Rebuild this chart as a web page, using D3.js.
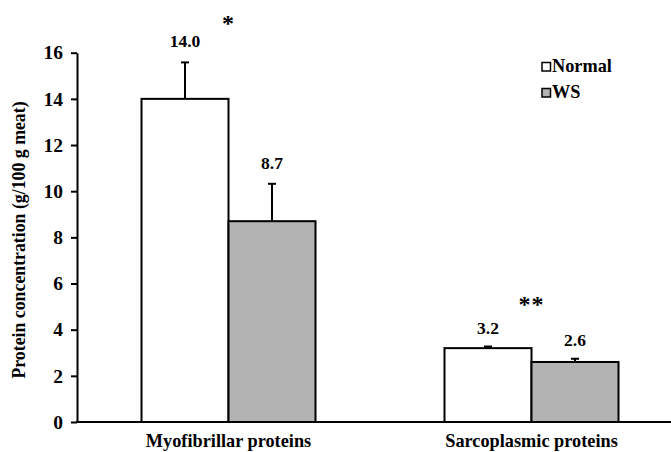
<!DOCTYPE html>
<html>
<head>
<meta charset="utf-8">
<script src="https://cdn.jsdelivr.net/npm/d3@7"></script>
<style>
  body { margin: 0; background: #fff; }
  text { font-family: "Liberation Serif", "Times New Roman", serif; font-weight: bold; }
</style>
</head>
<body>
<div id="chart"></div>
<script>
// data
const categories = ['Myofibrillar proteins', 'Sarcoplasmic proteins']
const series = ['Normal', 'WS']
const normalValues = [14.0, 3.2]
const wsValues = [8.7, 2.6]
const normalErr = [1.58, 0.07]
const wsErr = [1.62, 0.14]
const valueLabels = [['14.0', '8.7'], ['3.2', '2.6']]
const sigMarks = ['*', '**']
const yTicks = [0, 2, 4, 6, 8, 10, 12, 14, 16]

const width = 671
const height = 452
const fills = { Normal: '#ffffff', WS: '#b3b3b3' }

const svg = d3.select('#chart').append('svg')
  .attr('width', width)
  .attr('height', height)

const x0 = d3.scaleBand().domain(categories).range([77, 683]).paddingInner(0).paddingOuter(0)
const y = d3.scaleLinear().domain([0, 16]).range([422, 52.7])

const barW = 87
const x1 = d3.scaleBand().domain(series).range([x0.bandwidth() / 2 - barW, x0.bandwidth() / 2 + barW])

const rows = categories.map((c, i) => ({
  cat: c,
  bars: [
    { s: 'Normal', v: normalValues[i], e: normalErr[i], label: valueLabels[i][0] },
    { s: 'WS', v: wsValues[i], e: wsErr[i], label: valueLabels[i][1] }
  ],
  sig: sigMarks[i]
}))

const groups = svg.selectAll('g.cat')
  .data(rows)
  .join('g')
  .attr('class', 'cat')
  .attr('transform', d => `translate(${x0(d.cat)},0)`)

// error bars (drawn first, bar covers bottom)
groups.selectAll('g.err')
  .data(d => d.bars)
  .join('g')
  .attr('class', 'err')
  .each(function (d) {
    const g = d3.select(this)
    const cx = x1(d.s) + x1.bandwidth() / 2
    g.append('line')
      .attr('x1', cx).attr('x2', cx)
      .attr('y1', y(d.v)).attr('y2', y(d.v + d.e))
      .attr('stroke', '#000').attr('stroke-width', 2)
    g.append('line')
      .attr('x1', cx - 4).attr('x2', cx + 4)
      .attr('y1', y(d.v + d.e)).attr('y2', y(d.v + d.e))
      .attr('stroke', '#000').attr('stroke-width', 2)
  })

groups.selectAll('rect.bar')
  .data(d => d.bars)
  .join('rect')
  .attr('class', 'bar')
  .attr('x', d => x1(d.s))
  .attr('y', d => y(d.v))
  .attr('width', x1.bandwidth())
  .attr('height', d => y(0) - y(d.v))
  .attr('fill', d => fills[d.s])
  .attr('stroke', '#000')
  .attr('stroke-width', 2)

// value labels
groups.selectAll('text.val')
  .data(d => d.bars)
  .join('text')
  .attr('class', 'val')
  .attr('x', d => x1(d.s) + x1.bandwidth() / 2)
  .attr('y', d => y(d.v + d.e) - (d.e < 0.5 ? 13 : 15))
  .attr('text-anchor', 'middle')
  .style('font-size', '17.5px')
  .text(d => d.label)

// significance stars
groups.append('text')
  .attr('x', x0.bandwidth() / 2)
  .attr('y', (d, i) => i === 0 ? 31 : 312)
  .attr('text-anchor', 'middle')
  .style('font-size', '24px')
  .attr('letter-spacing', 1)
  .text(d => d.sig)

// axes
const yAxis = svg.append('g')
  .attr('transform', 'translate(77,0)')
  .call(d3.axisLeft(y).tickValues(yTicks).tickSize(6).tickSizeOuter(0).tickPadding(8))
yAxis.select('.domain').attr('stroke-width', 2)
yAxis.selectAll('.tick line').attr('stroke-width', 2)
yAxis.selectAll('.tick text')
  .style('font-size', '19.5px')
  .attr('fill', '#000')

svg.append('line')
  .attr('x1', 76).attr('x2', width)
  .attr('y1', y(0)).attr('y2', y(0))
  .attr('stroke', '#000').attr('stroke-width', 2)

svg.selectAll('text.xlab')
  .data(categories)
  .join('text')
  .attr('class', 'xlab')
  .attr('x', d => x0(d) + x0.bandwidth() / 2)
  .attr('y', 447)
  .attr('text-anchor', 'middle')
  .style('font-size', '18.3px')
  .text(d => d)

svg.append('text')
  .attr('transform', 'translate(25,240) rotate(-90)')
  .attr('text-anchor', 'middle')
  .style('font-size', '17.8px')
  .text('Protein concentration (g/100 g meat)')

// legend
const legend = svg.selectAll('g.legend')
  .data(series)
  .join('g')
  .attr('class', 'legend')
  .attr('transform', (d, i) => `translate(542,${62.5 + i * 26})`)
legend.append('rect')
  .attr('width', 8.5).attr('height', 8.5)
  .attr('fill', d => fills[d])
  .attr('stroke', '#000').attr('stroke-width', 1.5)
legend.append('text')
  .attr('x', 10).attr('y', 9)
  .style('font-size', '18.3px')
  .text(d => d)
</script>
</body>
</html>
